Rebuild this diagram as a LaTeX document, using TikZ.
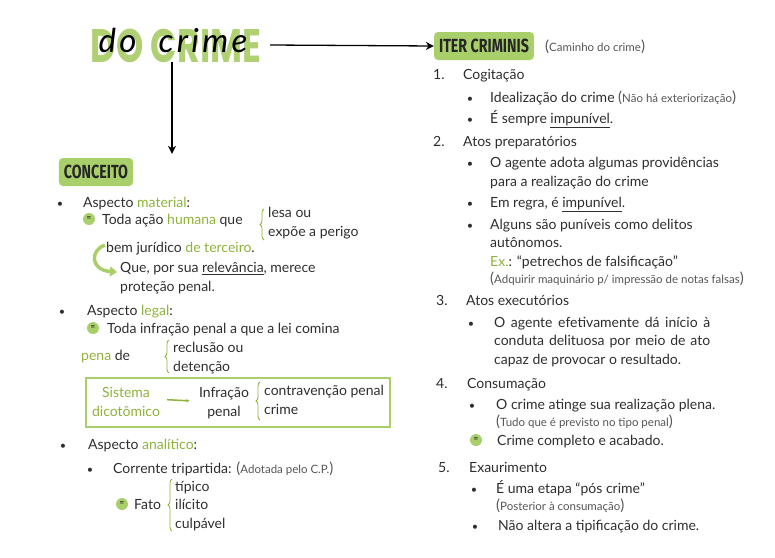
\documentclass[tikz,border=0pt]{standalone}
\usepackage{fontspec}
\setmainfont{Lato}
\newfontfamily\headfam{Fira Sans}
\newfontfamily\titlefam{Poppins}
\usetikzlibrary{arrows.meta,decorations.pathreplacing,calc}
\definecolor{leaf}{HTML}{A9CF6A}
\definecolor{leafdk}{HTML}{8DB33A}
\definecolor{ink}{HTML}{2E2E2E}
\definecolor{mutedtxt}{HTML}{555555}
\definecolor{titlegr}{HTML}{AFD174}

\newcommand\gr[1]{\textcolor{leafdk}{#1}}
\newcommand\sidenote[1]{{\color{mutedtxt}{\fontsize{15}{15}\selectfont(}{\fontsize{11.5}{12}\selectfont #1}{\fontsize{15}{15}\selectfont)}}}
\newcommand\bodyfont{\fontsize{14}{18.5}\selectfont}

\tikzset{
  txt/.style={anchor=base west,inner sep=0pt,font=\bodyfont,text=ink,align=left},
  ctxt/.style={anchor=base,inner sep=0pt,font=\bodyfont,align=center},
  bul/.style={anchor=base,inner sep=0pt,font=\fontsize{11}{11}\selectfont,text=ink},
  head_box/.style={fill=leaf,rounded corners=4pt,inner xsep=5pt,inner ysep=0pt,
    minimum height=28pt,font=\headfam\bfseries\fontsize{19}{19}\selectfont,text=black!85},
  eq_dot/.style={circle,fill=leaf,minimum size=12pt,inner sep=0pt,
    font=\fontsize{8}{8}\selectfont\bfseries,text=ink},
  grbrace/.style={draw=leafdk,decorate,decoration={brace,amplitude=4pt},line width=0.8pt},
  arr/.style={-{Stealth[length=8pt,width=8pt]},draw=black,line width=1.3pt},
  arr_g/.style={-{Stealth[length=4pt]},draw=leafdk,line width=1.5pt},
}

\begin{document}
\begin{tikzpicture}[x=1pt,y=-1pt]
  \useasboundingbox (0,0) rectangle (775,557);

  % title
  \node[inner sep=0pt,text=titlegr,font=\titlefam\bfseries\fontsize{47}{47}\selectfont]
    (title) at (176,46) {\scalebox{0.74}[1]{DO CRIME}};
  \node[anchor=base,inner sep=0pt,text=black,font=\itshape\fontsize{33}{33}\selectfont]
    (script) at (173,52) {\addfontfeature{LetterSpace=10}do\hspace{22pt}crime};
  \coordinate (t_out) at (270,45);
  \coordinate (t_down) at (172,62);

  % headers
  \node[head_box] (iter) at (484,46) {\scalebox{0.75}[1]{ITER CRIMINIS}};
  \node[txt] (iter_sub) at (545,51) {\sidenote{Caminho do crime}};
  \node[head_box] (conc) at (96,172) {\scalebox{0.75}[1]{CONCEITO}};

  \draw[arr] (t_out) -- (iter.west);
  \draw[arr] (t_down) -- ($(conc.north)+(76,-4)$);

  % iter criminis
  \node[txt] (n1) at (433,79) {1.};
  \node[txt] (cog) at (463,79) {Cogitação};
  \node[bul] (b11) at (470,102) {\textbullet};
  \node[txt] (ideal) at (490,102) {Idealização do crime \sidenote{Não há exteriorização}};
  \node[bul] (b12) at (470,123) {\textbullet};
  \node[txt] (sempre) at (490,123) {É sempre \underline{impunível}.};

  \node[txt] (n2) at (433,146) {2.};
  \node[txt] (prep) at (463,146) {Atos preparatórios};
  \node[bul] (b21) at (470,167) {\textbullet};
  \node[txt] (adota) at (490,186) {O agente adota algumas providências\\para a realização do crime};
  \node[bul] (b22) at (470,207) {\textbullet};
  \node[txt] (regra) at (490,207) {Em regra, é \underline{impunível}.};
  \node[bul] (b23) at (470,229) {\textbullet};
  \node[txt] (alguns) at (490,266) {Alguns são puníveis como delitos\\autônomos.\\\gr{Ex.}: “petrechos de falsificação”};
  \node[txt] (adq) at (490,283) {\sidenote{Adquirir maquinário p/ impressão de notas falsas}};

  \node[txt] (n3) at (436,305) {3.};
  \node[txt] (exec) at (466,305) {Atos executórios};
  \node[bul] (b31) at (471,327) {\textbullet};
  \node[txt,text width=216pt,align=justify] (efet) at (494,327)
    {O agente efetivamente dá início à\linebreak conduta delituosa por meio de ato\linebreak capaz de provocar o resultado.};

  \node[txt] (n4) at (436,388) {4.};
  \node[txt] (cons) at (467,388) {Consumação};
  \node[bul] (b41) at (472,409) {\textbullet};
  \node[txt] (atinge) at (496,409) {O crime atinge sua realização plena.};
  \node[txt] (tudo) at (496,426) {\sidenote{Tudo que é previsto no tipo penal}};
  \node[eq_dot] (eq4) at (476,440) {=};
  \node[txt] (compl) at (497,445) {Crime completo e acabado.};

  \node[txt] (n5) at (438,472) {5.};
  \node[txt] (exaur) at (469,472) {Exaurimento};
  \node[bul] (b51) at (474,493) {\textbullet};
  \node[txt] (etapa) at (496,493) {É uma etapa “pós crime”};
  \node[txt] (poster) at (496,510) {\sidenote{Posterior à consumação}};
  \node[bul] (b52) at (475,530) {\textbullet};
  \node[txt] (altera) at (498,530) {Não altera a tipificação do crime.};

  % conceito: material
  \node[bul] (bm) at (60,207) {\textbullet};
  \node[txt] (mat) at (83,207) {Aspecto \gr{material}:};
  \node[eq_dot] (eqm) at (89,219) {=};
  \node[txt] (toda) at (102,224) {Toda ação \gr{humana} que};
  \draw[grbrace] (264,240) -- (264,209);
  \node[txt] (lesa) at (268,236) {lesa ou\\expõe a perigo};
  \node[txt] (bem) at (106,252) {bem jurídico \gr{de terceiro}.};
  \node[txt] (que) at (120,291) {Que, por sua \underline{relevância}, merece\\proteção penal.};
  \draw[-{Triangle[length=7pt,width=10pt]},draw=leaf,line width=3.5pt]
    ($(bem.west)+(-1,-3)$) .. controls (90,250) and (90,270) .. ($(que.north west)+(-3,10)$);

  % conceito: legal
  \node[bul] (bl) at (62,315) {\textbullet};
  \node[txt] (leg) at (87,315) {Aspecto \gr{legal}:};
  \node[eq_dot] (eql) at (93,328) {=};
  \node[txt] (comina) at (107,333) {Toda infração penal a que a lei comina};
  \node[txt] (pena) at (81,360) {\gr{pena} de};
  \draw[grbrace] (169,373) -- (169,340);
  \node[txt] (recl) at (173,371) {reclusão ou\\detenção};
  \draw[draw=leaf,line width=1.5pt] (86,378) rectangle (390,427);
  \node[ctxt,text=leafdk] (sist) at (126,416) {Sistema\\dicotômico};
  \node[ctxt,text=ink] (infr) at (224,416) {Infração\\penal};
  \draw[arr_g] ($(sist.east)+(7,-2)$) -- ($(infr.west)+(-9,-2)$);
  \draw[grbrace] (260,420) -- (260,382);
  \node[txt] (contrav) at (264,414) {contravenção penal\\crime};

  % conceito: analitico
  \node[bul] (ba) at (63,449) {\textbullet};
  \node[txt] (anal) at (88,449) {Aspecto \gr{analítico}:};
  \node[bul] (bt) at (90,473) {\textbullet};
  \node[txt] (trip) at (113,473) {Corrente tripartida: \sidenote{Adotada pelo C.P.}};
  \node[eq_dot] (eqa) at (122,504) {=};
  \node[txt] (fato) at (134,509) {Fato};
  \draw[grbrace] (172,531) -- (172,479);
  \node[txt] (tipico) at (175,528) {típico\\ilícito\\culpável};
\end{tikzpicture}
\end{document}
